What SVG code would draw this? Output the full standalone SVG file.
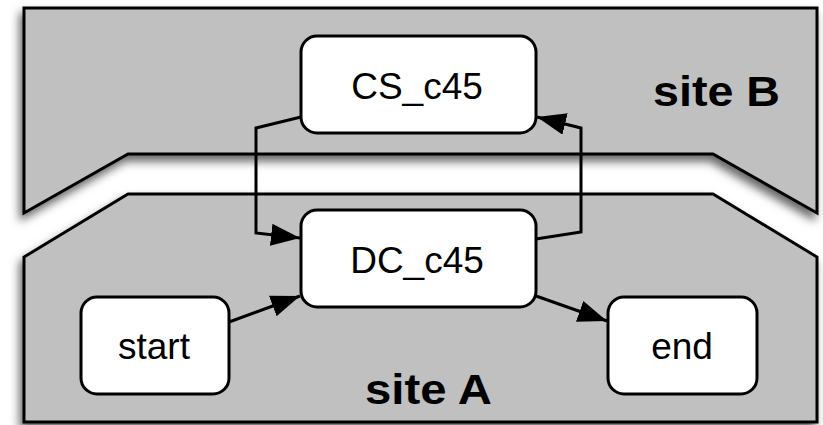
<svg xmlns="http://www.w3.org/2000/svg" width="823" height="425" viewBox="0 0 823 425">
<style>
.site{fill:#c0c0c0;stroke:#000;stroke-width:3;stroke-linejoin:miter;filter:url(#sh)}
.node rect{fill:#fff;stroke:#000;stroke-width:3}
.node text{font-family:"Liberation Sans",Arial,sans-serif;font-size:37px;text-anchor:middle;fill:#000}
.lbl{font-family:"Liberation Sans",Arial,sans-serif;font-size:42px;font-weight:bold;fill:#000}
.conn path{fill:none;stroke:#000;stroke-width:3;marker-end:url(#ah)}
</style>
<defs>
<filter id="sh" x="-10%" y="-10%" width="120%" height="130%">
<feDropShadow dx="-3" dy="6" stdDeviation="5" flood-color="#000" flood-opacity="0.6"/>
</filter>
<marker id="ah" markerUnits="userSpaceOnUse" markerWidth="32" markerHeight="24" refX="29" refY="11" orient="auto">
<path d="M0,0 L29,11 L0,22 z" fill="#000"/>
</marker>
</defs>
<rect width="823" height="425" fill="#fff"/>
<g id="siteB">
<polygon class="site" points="24,8 817,8 817,213 713,154 128,154 24,213"/>
<text class="lbl" x="653" y="106" textLength="127" lengthAdjust="spacingAndGlyphs">site B</text>
</g>
<g id="siteA">
<polygon class="site" points="128,194 713,194 817,257 817,422 24,422 24,257"/>
<text class="lbl" x="365" y="404" textLength="127" lengthAdjust="spacingAndGlyphs">site A</text>
</g>
<g id="connectors" class="conn">
<path d="M301,117 L256,128 L256,233 L300,238"/>
<path d="M536,239 L581,232 L581,128 L537,117"/>
<path d="M229,322 L300,296"/>
<path d="M536,296 L607,321"/>
</g>
<g id="CS_c45" class="node">
<rect x="301" y="36" width="235" height="97" rx="16"/>
<text x="417" y="99">CS_c45</text>
</g>
<g id="DC_c45" class="node">
<rect x="301" y="210" width="235" height="97" rx="16"/>
<text x="417" y="273">DC_c45</text>
</g>
<g id="start" class="node">
<rect x="81" y="297" width="148" height="97" rx="16"/>
<text x="154" y="359">start</text>
</g>
<g id="end" class="node">
<rect x="608" y="297" width="149" height="97" rx="16"/>
<text x="682" y="359">end</text>
</g>
</svg>
